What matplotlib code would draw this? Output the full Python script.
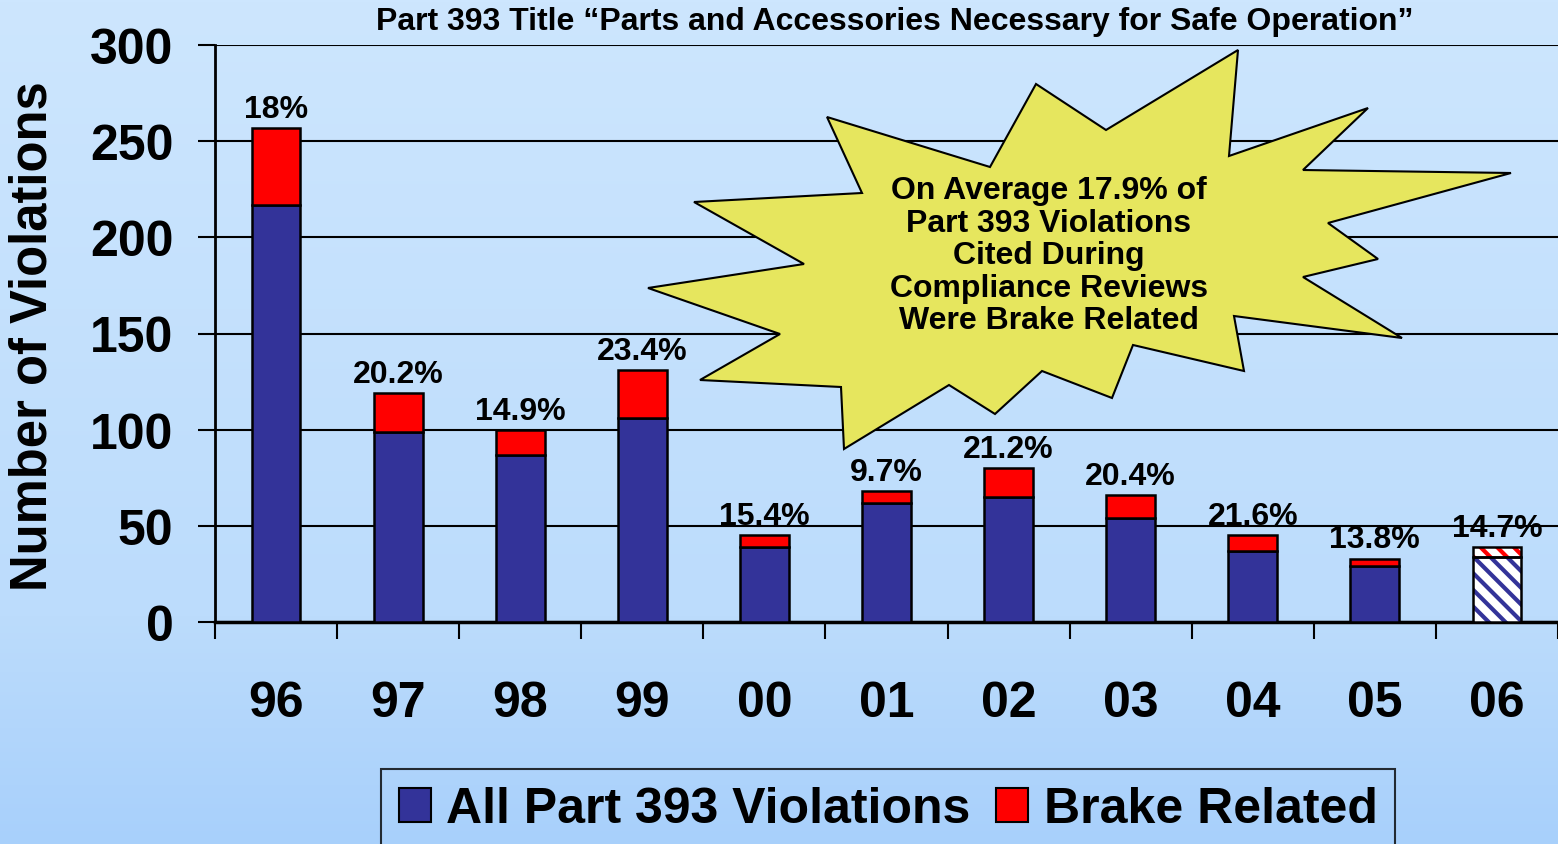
import numpy as np
import matplotlib.pyplot as plt
from matplotlib.patches import Polygon, Patch

# ---------------------------------------------------------
# data
# ---------------------------------------------------------
years = ["96", "97", "98", "99", "00", "01", "02", "03", "04", "05", "06"]
all_393 = [217, 99, 87, 106, 39, 62, 65, 54, 37, 29, 34]
brake = [40, 20, 13, 25, 6, 6, 15, 12, 8, 4, 5]
pct_labels = ["18%", "20.2%", "14.9%", "23.4%", "15.4%", "9.7%",
              "21.2%", "20.4%", "21.6%", "13.8%", "14.7%"]

callout_lines = ["On Average 17.9% of", "Part 393 Violations", "Cited During",
                 "Compliance Reviews", "Were Brake Related"]

NAVY = "#333399"
RED = "#ff0000"
STAR = "#e6e65e"

W, H = 1558, 845
plt.rcParams["font.family"] = ["Liberation Sans", "DejaVu Sans"]
plt.rcParams["font.weight"] = "bold"
plt.rcParams["hatch.linewidth"] = 3.0


def px(x, y):
    # pixel position (top-left origin) -> figure fraction
    return x / W, 1 - y / H


fig = plt.figure(figsize=(W / 100, H / 100), dpi=100)

# background gradient
bg = fig.add_axes([0, 0, 1, 1], zorder=-10)
rows = np.linspace(0, 1, 256)
stops = [0, 0.73, 1]
grad = np.stack([
    np.interp(rows, stops, [205, 188, 168]),
    np.interp(rows, stops, [230, 220, 208]),
    np.interp(rows, stops, [254, 252, 251]),
], axis=-1)[:, None, :] / 255
bg.imshow(grad, aspect="auto", extent=[0, 1, 0, 1])
bg.axis("off")

ax = fig.add_axes([215 / W, 1 - 623 / H, (W - 215) / W, (623 - 46) / H])
ax.patch.set_alpha(0)

x = np.arange(len(years))
totals = np.array(all_393) + np.array(brake)
bw = 0.4

# actual years
ax.bar(x[:-1], all_393[:-1], width=bw, color=NAVY, edgecolor="black",
       lw=1.8, zorder=3)
ax.bar(x[:-1], brake[:-1], bottom=all_393[:-1], width=bw, color=RED,
       edgecolor="black", lw=1.8, zorder=3)

# last year (hatched)
ax.bar(x[-1], all_393[-1], width=bw, color="white", edgecolor=NAVY,
       hatch="\\\\", lw=0, zorder=3)
ax.bar(x[-1], brake[-1], bottom=all_393[-1], width=bw, color="white",
       edgecolor=RED, hatch="\\\\", lw=0, zorder=3)
ax.bar(x[-1], all_393[-1], width=bw, fill=False, edgecolor="black",
       lw=1.8, zorder=4)
ax.bar(x[-1], brake[-1], bottom=all_393[-1], width=bw, fill=False,
       edgecolor="black", lw=1.8, zorder=4)

for xi, tot, lab in zip(x, totals, pct_labels):
    ax.annotate(lab, (xi, tot), xytext=(0, 8), textcoords="offset points",
                ha="center", va="baseline", fontsize=23, fontweight="bold")

ax.set_xlim(-0.5, len(years) - 0.5)
ax.set_ylim(0, 300)
ax.set_yticks(range(0, 301, 50))
ax.set_xticks(x, years)
ax.set_xticks(np.arange(-0.5, len(years), 1), minor=True)
ax.tick_params(axis="x", which="major", length=0, pad=42, labelsize=36)
ax.tick_params(axis="x", which="minor", length=12, width=1.5)
ax.tick_params(axis="y", length=12, width=1.5, pad=18, labelsize=36)

ax.yaxis.grid(True, color="black", lw=1.5)
ax.set_axisbelow(True)
for s in ["top", "right"]:
    ax.spines[s].set_visible(False)
ax.spines["left"].set_linewidth(2)
ax.spines["bottom"].set_linewidth(2.5)

fig.text(*px(33, 336), "Number of Violations", rotation=90, ha="center",
         va="center", fontsize=36.5, fontweight="bold")
fig.text(*px(895, 22), "Part 393 Title \u201cParts and Accessories Necessary for Safe Operation\u201d",
         ha="center", va="center", fontsize=23, fontweight="bold")

# starburst callout
star_px = [(827, 118), (990, 168), (1036, 85), (1106, 131), (1238, 51),
           (1229, 157), (1368, 109), (1303, 171), (1511, 174), (1328, 224),
           (1378, 260), (1303, 278), (1402, 339), (1234, 317), (1244, 372),
           (1133, 346), (1112, 399), (1042, 372), (995, 415), (949, 386),
           (844, 450), (841, 388), (700, 381), (780, 335), (648, 289),
           (804, 265), (694, 203), (862, 194)]
star = Polygon([px(a, b) for a, b in star_px], closed=True,
               transform=fig.transFigure, facecolor=STAR, edgecolor="black",
               lw=1.5, zorder=6, clip_on=False)
ax.add_patch(star)
for i, line in enumerate(callout_lines):
    fig.text(*px(1049, 191 + 32.5 * i), line, ha="center", va="center",
             fontsize=23, fontweight="bold", zorder=7)

leg = fig.legend(handles=[Patch(facecolor=NAVY, edgecolor="black", lw=1.5),
                          Patch(facecolor=RED, edgecolor="black", lw=1.5)],
                 labels=["All Part 393 Violations", "Brake Related"],
                 loc="upper left", bbox_to_anchor=px(381, 770), ncol=2,
                 fontsize=36, frameon=True, fancybox=False, edgecolor="black",
                 facecolor="none", borderpad=0.35, handlelength=0.64,
                 handleheight=0.68, handletextpad=0.32, columnspacing=0.5,
                 borderaxespad=0)
leg.get_frame().set_linewidth(1.5)

fig.savefig("out.png", dpi=100)
